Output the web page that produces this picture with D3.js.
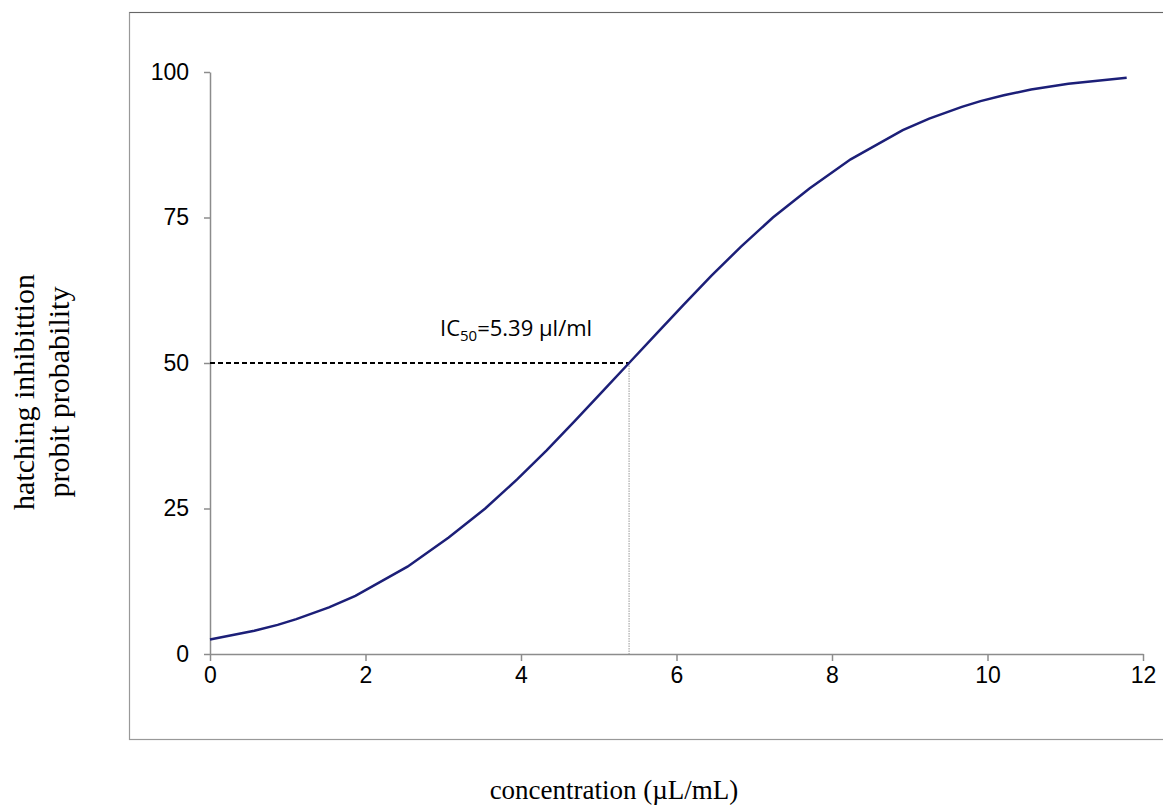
<!DOCTYPE html>
<html>
<head>
<meta charset="utf-8">
<script src="https://cdn.jsdelivr.net/npm/d3@7"></script>
<style>
  body { margin: 0; background: #fff; }
</style>
</head>
<body>
<div id="chart"></div>
<script>
// probit curve
const concentration = [0.00, 0.57, 0.87, 1.11, 1.53, 1.87, 2.54, 3.07, 3.54, 3.95, 4.33, 4.69, 5.04, 5.39,
  5.74, 6.09, 6.45, 6.83, 7.24, 7.71, 8.24, 8.91, 9.25, 9.67, 9.91, 10.21, 10.56, 11.04, 11.79];
const probability = [2.5, 4, 5, 6, 8, 10, 15, 20, 25, 30, 35, 40, 45, 50,
  55, 60, 65, 70, 75, 80, 85, 90, 92, 94, 95, 96, 97, 98, 99];
const xTicks = [0, 2, 4, 6, 8, 10, 12];
const yTicks = [0, 25, 50, 75, 100];
const ic50 = 5.39;

const width = 1163, height = 807;
const svg = d3.select('#chart').append('svg')
    .attr('width', width)
    .attr('height', height);

// outer chart frame (right edge runs off the picture)
svg.append('rect')
    .attr('x', 129.5).attr('y', 12.5)
    .attr('width', 1100).attr('height', 727)
    .attr('fill', 'none')
    .attr('stroke', '#999')
    .attr('stroke-width', 1.2);
svg.append('line')
    .attr('x1', 129.5).attr('x2', 1163)
    .attr('y1', 12.5).attr('y2', 12.5)
    .attr('stroke', '#666')
    .attr('stroke-width', 1.2);

const x = d3.scaleLinear().domain([0, 12]).range([210, 1143]);
const y = d3.scaleLinear().domain([0, 100]).range([654, 72]);

const xAxis = svg.append('g')
    .attr('transform', `translate(0,${y(0)})`)
    .call(d3.axisBottom(x).tickValues(xTicks).tickSize(7).tickPadding(6).tickSizeOuter(0));
const yAxis = svg.append('g')
    .attr('transform', `translate(${x(0)},0)`)
    .call(d3.axisLeft(y).tickValues(yTicks).tickSize(6).tickPadding(15).tickSizeOuter(0));

[xAxis, yAxis].forEach(g => {
    g.select('.domain').attr('stroke', '#8c8c8c').attr('stroke-width', 1.5);
    g.selectAll('.tick line').attr('stroke', '#8c8c8c').attr('stroke-width', 1.5);
    g.selectAll('.tick text')
        .attr('fill', '#000')
        .style('font-family', '"Liberation Sans", Arial, sans-serif')
        .style('font-size', '23px');
});

// IC50 guide lines
svg.append('line')
    .attr('x1', x(0)).attr('x2', x(ic50))
    .attr('y1', y(50)).attr('y2', y(50))
    .attr('stroke', '#000')
    .attr('stroke-width', 2)
    .attr('stroke-dasharray', '5,3');

svg.append('line')
    .attr('x1', x(ic50)).attr('x2', x(ic50))
    .attr('y1', y(50)).attr('y2', y(0))
    .attr('stroke', '#999')
    .attr('stroke-width', 1)
    .attr('stroke-dasharray', '1.5,1');

const pts = concentration.map((c, i) => [c, probability[i]]);
const line = d3.line().x(d => x(d[0])).y(d => y(d[1]));

svg.append('path')
    .datum(pts)
    .attr('d', line)
    .attr('fill', 'none')
    .attr('stroke', '#1c1f78')
    .attr('stroke-width', 2.5);

// annotation
const ann = svg.append('text')
    .attr('x', 440).attr('y', 336)
    .style('font-family', '"Open Sans", "Noto Sans", sans-serif')
    .style('font-size', '22px')
    .attr('fill', '#000');
ann.append('tspan').text('IC');
ann.append('tspan').text('50').attr('dy', 5).style('font-size', '15px');
ann.append('tspan').text('=5.39 µl/ml').attr('dy', -5);

// axis titles
const serif = '"Liberation Serif", "Times New Roman", serif';
svg.append('text')
    .attr('transform', 'translate(34,392) rotate(-90)')
    .attr('text-anchor', 'middle')
    .style('font-family', serif)
    .style('font-size', '30px')
    .text('hatching inhibittion');
svg.append('text')
    .attr('transform', 'translate(69,392) rotate(-90)')
    .attr('text-anchor', 'middle')
    .style('font-family', serif)
    .style('font-size', '30px')
    .text('probit probability');

svg.append('text')
    .attr('x', 614).attr('y', 799)
    .attr('text-anchor', 'middle')
    .style('font-family', serif)
    .style('font-size', '27px')
    .text('concentration (µL/mL)');
</script>
</body>
</html>
